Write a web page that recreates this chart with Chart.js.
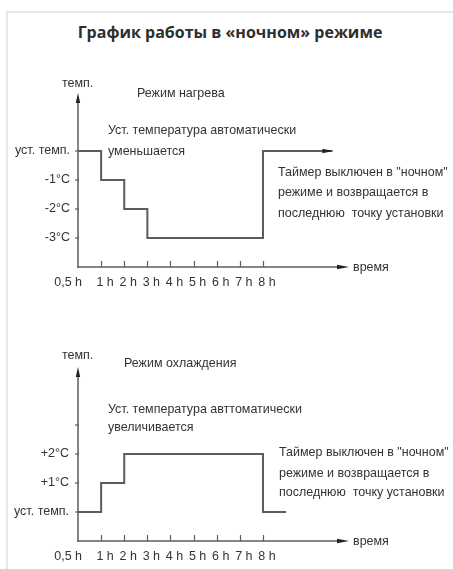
<!DOCTYPE html>
<html><head><meta charset="utf-8">
<script src="https://cdn.jsdelivr.net/npm/chart.js@4.4.0/dist/chart.umd.min.js"></script>
<style>
html,body{margin:0;padding:0;background:#fff;}
body{width:453px;height:569px;position:relative;overflow:hidden;}
#card{position:absolute;left:6px;top:11px;right:-2px;bottom:-2px;border-left:2px solid #e1e8ef;border-top:2px solid #e1e8ef;}
#title{position:absolute;left:0;width:460px;top:20px;text-align:center;font:bold 16px "Open Sans";color:#2e2e2e;line-height:24px;}
canvas{position:absolute;left:0;}
#c1{top:50px;} #c2{top:320px;}
</style></head>
<body>
<div id="card"></div>
<div id="title">График работы в «ночном» режиме</div>
<canvas id="c1" width="453" height="250"></canvas>
<canvas id="c2" width="453" height="249"></canvas>
<script>
// ---- data ----
const timeLabels = ["0,5 h","1 h","2 h","3 h","4 h","5 h","6 h","7 h","8 h"];
const heatTimes = [0, 1, 2, 3, 8, 11];
const heatOffsets = [0, -1, -2, -3, 0, 0];
const heatTickValues = [0, -1, -2, -3];
const heatTickLabels = ["уст. темп.", "-1°C", "-2°C", "-3°C"];
const coolTimes = [0, 1, 2, 8, 9];
const coolOffsets = [0, 1, 2, 0, 0];
const coolTickValues = [0, 1, 2, 3];
const coolTickLabels = ["уст. темп.", "+1°C", "+2°C", ""];
const heatTexts = ["Режим нагрева", "Уст. температура автоматически", "уменьшается",
  "Таймер выключен в \"ночном\"", "режиме и возвращается в", "последнюю  точку установки"];
const coolTexts = ["Режим охлаждения", "Уст. температура авттоматически", "увеличивается",
  "Таймер выключен в \"ночном\"", "режиме и возвращается в", "последнюю  точку установки"];
const yAxisTitle = "темп.";
const xAxisTitle = "время";

// ---- drawing ----
const FAMILY = '"Liberation Sans", Arial, sans-serif';
const FONT = '13px ' + FAMILY;
const SX = 0.96;
const TEXT = '#333';
const LINE = '#5c5c5c';

function txt(ctx, s, x, y, align) {
  ctx.save(); ctx.translate(x, y); ctx.scale(SX, 1);
  ctx.textAlign = align || 'left'; ctx.fillText(s, 0, 0); ctx.restore();
}

const decor = {
  id: 'decor',
  afterDatasetsDraw(chart, args, opts) {
    const ctx = chart.ctx, a = chart.chartArea;
    const xs = chart.scales.x, ys = chart.scales.y;
    const x0 = xs.getPixelForValue(0);
    const yb = ys.getPixelForValue(ys.min);
    ctx.save();
    ctx.strokeStyle = LINE; ctx.fillStyle = '#222'; ctx.lineWidth = 1.5;
    // y axis
    ctx.beginPath(); ctx.moveTo(x0, yb + 0.75); ctx.lineTo(x0, a.top + 8); ctx.stroke();
    ctx.beginPath(); ctx.moveTo(x0, a.top); ctx.lineTo(x0 - 2.2, a.top + 10); ctx.lineTo(x0 + 2.2, a.top + 10); ctx.closePath(); ctx.fill();
    // x axis
    ctx.beginPath(); ctx.moveTo(x0 - 0.75, yb); ctx.lineTo(a.right - 10, yb); ctx.stroke();
    ctx.beginPath(); ctx.moveTo(a.right, yb); ctx.lineTo(a.right - 12, yb - 2.2); ctx.lineTo(a.right - 12, yb + 2.2); ctx.closePath(); ctx.fill();
    // x ticks
    ctx.lineWidth = 1.2;
    for (let i = 1; i < timeLabels.length; i++) {
      const px = Math.round(xs.getPixelForValue(i)) + 0.5;
      ctx.beginPath(); ctx.moveTo(px, yb); ctx.lineTo(px, yb - 6); ctx.stroke();
    }
    // y ticks
    ys.ticks.forEach(t => {
      const py = ys.getPixelForValue(t.value);
      ctx.beginPath(); ctx.moveTo(x0 - 3, py); ctx.lineTo(x0 + 1, py); ctx.stroke();
    });
    // x labels
    ctx.font = FONT; ctx.fillStyle = TEXT; ctx.textBaseline = 'middle';
    timeLabels.forEach((l, i) => {
      const px = xs.getPixelForValue(i);
      if (i === 0) txt(ctx, l, px + 4, yb + 15, 'right');
      else txt(ctx, l, px + 4, yb + 15, 'center');
    });
    // axis titles
    txt(ctx, xAxisTitle, a.right + 4, yb);
    txt(ctx, yAxisTitle, x0 - 16, a.top + opts.yTitleDy);
    // notes
    opts.notes.forEach(n => txt(ctx, n.text, a.left + n.dx, a.top + n.dy));
    // arrow at end of step line
    if (opts.lineArrow) {
      const pts = chart.getDatasetMeta(0).data;
      const p = pts[pts.length - 1];
      ctx.fillStyle = '#222';
      ctx.beginPath(); ctx.moveTo(p.x + 1, p.y); ctx.lineTo(p.x - 10, p.y - 2.2); ctx.lineTo(p.x - 10, p.y + 2.2); ctx.closePath(); ctx.fill();
    }
    ctx.restore();
  }
};

function makeChart(id, times, offsets, tickVals, tickLabels, yMin, yMax, pad, labelPad, decorOpts) {
  return new Chart(document.getElementById(id), {
    type: 'line',
    data: {
      datasets: [{
        data: times.map((t, i) => ({ x: t, y: offsets[i] })),
        stepped: 'before',
        borderColor: LINE,
        borderWidth: 2,
        pointRadius: 0,
        fill: false,
        borderCapStyle: 'butt',
        borderJoinStyle: 'miter'
      }]
    },
    options: {
      responsive: false,
      animation: false,
      layout: { padding: pad },
      plugins: { legend: { display: false }, tooltip: { enabled: false }, decor: decorOpts },
      scales: {
        x: { type: 'linear', min: 0, max: 11.72, display: false },
        y: {
          type: 'linear', min: yMin, max: yMax, position: 'left',
          grid: { display: false, drawTicks: false },
          border: { display: false },
          ticks: {
            padding: labelPad, color: TEXT,
            font: { family: FAMILY, size: 12.5 },
            callback: v => { const k = tickVals.indexOf(v); return k >= 0 ? tickLabels[k] : ''; }
          },
          afterBuildTicks: s => { s.ticks = tickVals.map(v => ({ value: v })); },
          afterFit: s => { s.width = 78; }
        }
      }
    },
    plugins: [decor]
  });
}

makeChart('c1', heatTimes, heatOffsets, heatTickValues, heatTickLabels, -4, 2,
  { top: 43, bottom: 33, left: 0, right: 104 }, 8,
  { yTitleDy: -10, lineArrow: true, notes: [
    { text: heatTexts[0], dx: 59, dy: 0 },
    { text: heatTexts[1], dx: 30, dy: 37 },
    { text: heatTexts[2], dx: 30, dy: 58 },
    { text: heatTexts[3], dx: 200, dy: 79 },
    { text: heatTexts[4], dx: 200, dy: 99 },
    { text: heatTexts[5], dx: 200, dy: 120 }
  ] });

makeChart('c2', coolTimes, coolOffsets, coolTickValues, coolTickLabels, -1, 5,
  { top: 47, bottom: 28, left: 0, right: 104 }, 9,
  { yTitleDy: -12, lineArrow: false, notes: [
    { text: coolTexts[0], dx: 46, dy: -4 },
    { text: coolTexts[1], dx: 30, dy: 42 },
    { text: coolTexts[2], dx: 30, dy: 60 },
    { text: coolTexts[3], dx: 201, dy: 85 },
    { text: coolTexts[4], dx: 201, dy: 106 },
    { text: coolTexts[5], dx: 201, dy: 125 }
  ] });
</script>
</body></html>
